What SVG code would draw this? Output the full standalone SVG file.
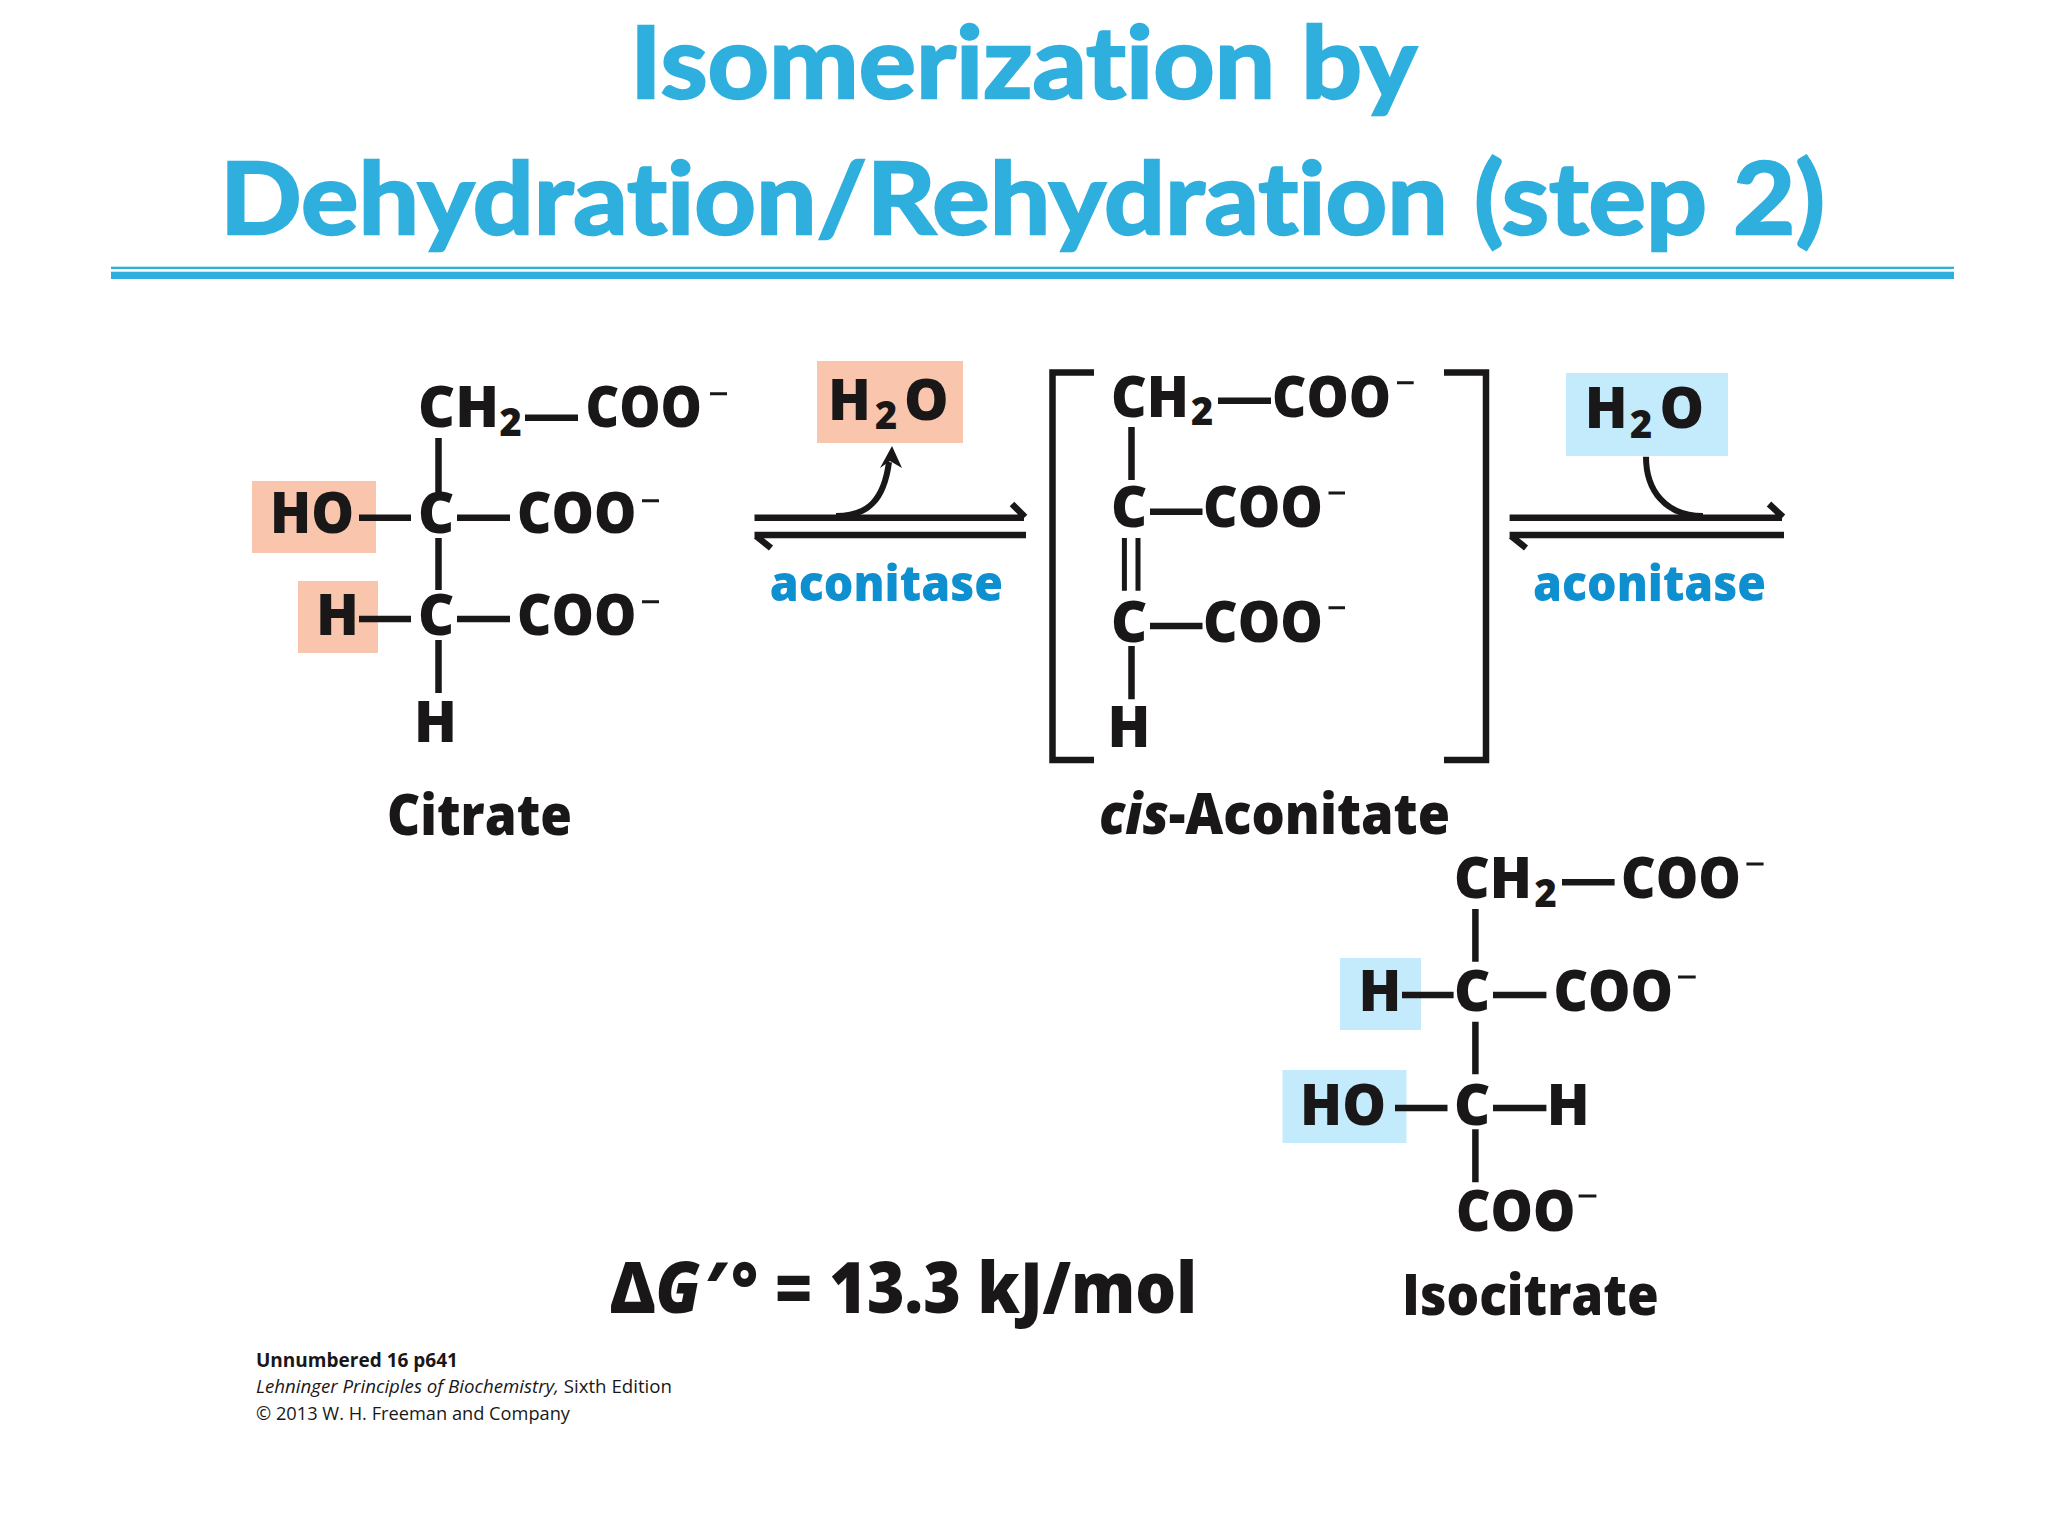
<svg xmlns="http://www.w3.org/2000/svg" width="2048" height="1536" viewBox="0 0 2048 1536">
<style>
text{font-family:"Open Sans","Noto Sans",sans-serif;font-weight:800;fill:#1a1718;font-variant-ligatures:none}
.f{font-size:56px}
.s{font-size:38px}
.e{font-size:50px;fill:#0e8fcf}
.t{font-family:Lato,"Open Sans",sans-serif;font-weight:700;font-size:100px;fill:#2fafdd;stroke:#2fafdd;stroke-width:2.4}
.n{font-size:19px;font-weight:700}
.r{font-size:19px;font-weight:400}
.b{stroke:#1a1718;stroke-width:6.5;fill:none}
.a{stroke:#1a1718;stroke-width:6;fill:none}
.d{stroke:#1a1718;stroke-width:5;fill:none}
.m{stroke:#1a1718;stroke-width:3;fill:none}
.p{fill:#fac5ad}
.c{fill:#c4ebfb}
</style>
<rect width="2048" height="1536" fill="#ffffff"/>
<g id="title">
<text class="t" x="630" y="98" textLength="787" lengthAdjust="spacingAndGlyphs">Isomerization by</text>
<text class="t" x="220" y="234" textLength="1605" lengthAdjust="spacingAndGlyphs">Dehydration/Rehydration (step 2)</text>
<rect x="111" y="266.7" width="1843" height="2.3" fill="#2fafdd"/>
<rect x="111" y="271.7" width="1843" height="7.3" fill="#2fafdd"/>
</g>
<g id="highlights">
<rect class="p" x="252" y="481" width="124" height="72"/>
<rect class="p" x="298" y="581" width="80" height="72"/>
<rect class="p" x="817" y="361" width="146" height="82"/>
<rect class="c" x="1566" y="373" width="162" height="83"/>
<rect class="c" x="1340" y="958" width="81" height="72"/>
<rect class="c" x="1282.5" y="1070" width="124" height="73"/>
</g>
<g id="connectors">
<path class="b" d="M525 417.7H578M438.5 438V492M359 517.7H411M457 517.7H510M438.5 538V590M359 619H411M457 619H510M438.5 640V693"/>
<path class="b" d="M1218 400.7H1271M1131.5 427V480M1150 511.7H1202.5M1150 626H1202.5M1131.5 646V699.3"/>
<path class="d" d="M1124.4 538V590.7M1138 538V590.7"/>
<path class="b" d="M1562 882.3H1614.6M1475.4 909V961.7M1402 995H1453.6M1493 995H1546.4M1475.4 1021.7V1074.3M1395 1108H1447.5M1493 1108H1546.4M1475.4 1129.3V1182.3"/>
<path class="b" d="M754.5 517.7H1024M1012 504L1025 517M754.5 535H1026M756 536L771 548"/>
<path class="a" d="M836 516C868 516 884 500 889 462"/>
<path d="M892 446L902 468L890 461L880 468Z" fill="#1a1718"/>
<path class="b" d="M1509.6 517.7H1782M1769 504L1783 517M1509.6 535H1784M1511 536L1526 548"/>
<path class="a" d="M1646 456.7C1646 490 1665 516 1703 516"/>
</g>
<g id="citrate">
<text class="f" x="418" y="427" textLength="81" lengthAdjust="spacingAndGlyphs">CH</text>
<text class="s" x="499.5" y="436">2</text>
<text class="f" x="585.5" y="427" textLength="116.5" lengthAdjust="spacingAndGlyphs">COO</text>
<path class="m" d="M710 393.7H727M642 500.7H659M642 601.7H659"/>
<text class="f" x="270" y="533" textLength="84" lengthAdjust="spacingAndGlyphs">HO</text>
<text class="f" x="418" y="533">C</text>
<text class="f" x="517" y="533" textLength="119.5" lengthAdjust="spacingAndGlyphs">COO</text>
<text class="f" x="316" y="635">H</text>
<text class="f" x="418" y="635">C</text>
<text class="f" x="517" y="635" textLength="119.5" lengthAdjust="spacingAndGlyphs">COO</text>
<text class="f" x="414" y="741.7">H</text>
<text class="f" x="387" y="835" textLength="185" lengthAdjust="spacingAndGlyphs">Citrate</text>
</g>
<g id="water-out">
<text class="f" x="828" y="420">H</text>
<text class="s" x="875" y="429">2</text>
<text class="f" x="904" y="420">O</text>
<text class="e" x="769.7" y="600.7" textLength="233.3" lengthAdjust="spacingAndGlyphs">aconitase</text>
</g>
<g id="cis-aconitate">
<path class="b" d="M1094 372.5H1052.5V760H1094M1444 372.5H1486V760H1444"/>
<text class="f" x="1111" y="416.7" textLength="78" lengthAdjust="spacingAndGlyphs">CH</text>
<text class="s" x="1191" y="425">2</text>
<text class="f" x="1272" y="416.7" textLength="119" lengthAdjust="spacingAndGlyphs">COO</text>
<path class="m" d="M1397 382.7H1413.7M1328.5 493H1345M1328.5 607.7H1345"/>
<text class="f" x="1111" y="527">C</text>
<text class="f" x="1203" y="527" textLength="120" lengthAdjust="spacingAndGlyphs">COO</text>
<text class="f" x="1111" y="641.7">C</text>
<text class="f" x="1203" y="641.7" textLength="120" lengthAdjust="spacingAndGlyphs">COO</text>
<text class="f" x="1107.6" y="747">H</text>
<text class="f" x="1099" y="834" textLength="351" lengthAdjust="spacingAndGlyphs"><tspan font-style="italic">cis</tspan>-Aconitate</text>
</g>
<g id="water-in">
<text class="f" x="1584.7" y="427.7">H</text>
<text class="s" x="1630" y="437.7">2</text>
<text class="f" x="1659.6" y="427.7">O</text>
<text class="e" x="1533" y="600.7" textLength="233" lengthAdjust="spacingAndGlyphs">aconitase</text>
</g>
<g id="isocitrate">
<text class="f" x="1454" y="898" textLength="78" lengthAdjust="spacingAndGlyphs">CH</text>
<text class="s" x="1534.5" y="906.7">2</text>
<text class="f" x="1621" y="898" textLength="120" lengthAdjust="spacingAndGlyphs">COO</text>
<path class="m" d="M1746.4 864H1763.6M1678 977H1695.7M1578.6 1196H1596.4"/>
<text class="f" x="1358.6" y="1011">H</text>
<text class="f" x="1454" y="1011">C</text>
<text class="f" x="1553.4" y="1011" textLength="119.6" lengthAdjust="spacingAndGlyphs">COO</text>
<text class="f" x="1300" y="1125" textLength="86" lengthAdjust="spacingAndGlyphs">HO</text>
<text class="f" x="1454" y="1125">C</text>
<text class="f" x="1546.8" y="1125">H</text>
<text class="f" x="1456" y="1230.7" textLength="119.5" lengthAdjust="spacingAndGlyphs">COO</text>
<text class="f" x="1402" y="1315" textLength="256.7" lengthAdjust="spacingAndGlyphs">Isocitrate</text>
</g>
<g id="energy">
<text x="610" y="1312.7" font-size="71" textLength="587" lengthAdjust="spacingAndGlyphs">Δ<tspan font-style="italic">G<tspan dx="5">′</tspan></tspan><tspan dx="10">°</tspan> = 13.3 kJ/mol</text>
</g>
<g id="credit">
<text class="n" x="256" y="1366.7" textLength="202" lengthAdjust="spacingAndGlyphs">Unnumbered 16 p641</text>
<text class="r" x="256" y="1393" textLength="416" lengthAdjust="spacingAndGlyphs"><tspan font-style="italic">Lehninger Principles of Biochemistry,</tspan> Sixth Edition</text>
<text class="r" x="256" y="1420" textLength="314" lengthAdjust="spacingAndGlyphs">© 2013 W. H. Freeman and Company</text>
</g>
</svg>
